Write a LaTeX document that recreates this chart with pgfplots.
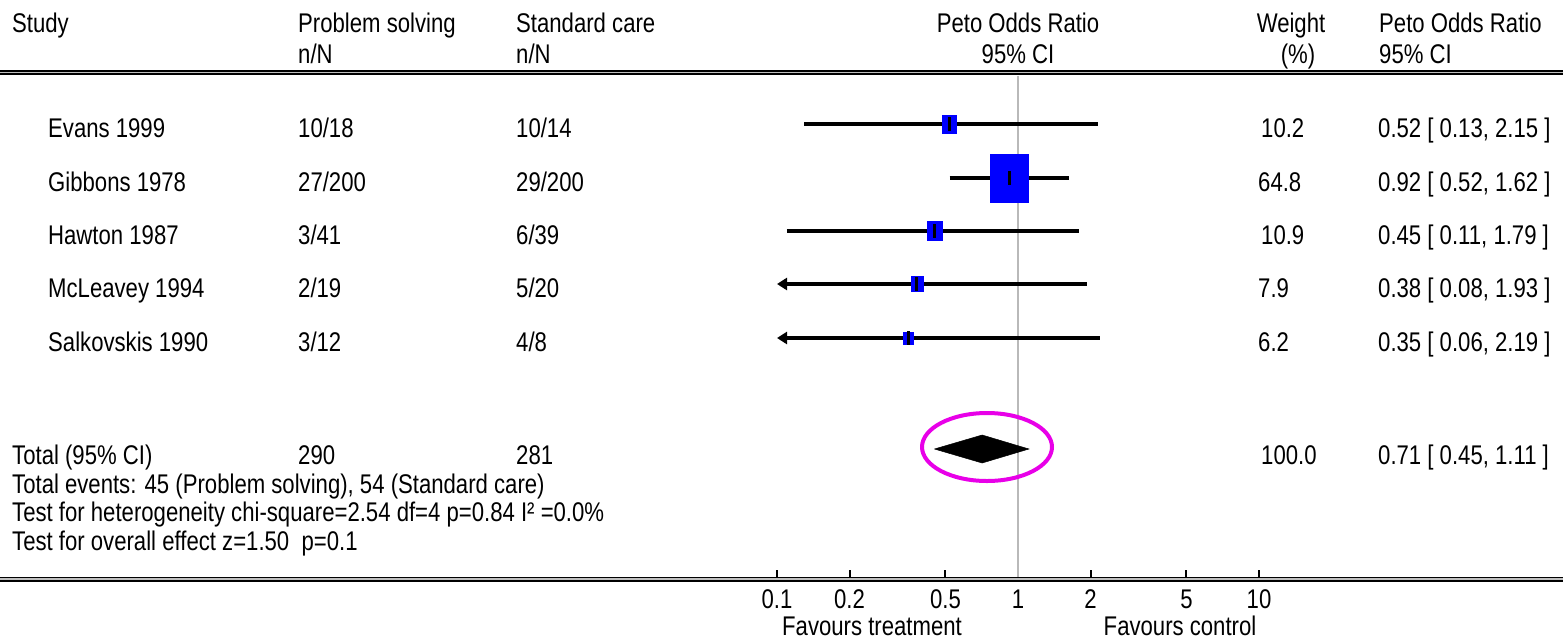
\documentclass[border=0pt]{standalone}
\usepackage{fontspec}
\setmainfont[FakeStretch=0.82]{Liberation Sans}
\usepackage{pgfplots}
\pgfplotsset{compat=1.18}
\usetikzlibrary{arrows.meta}
\newcommand\f{\fontsize{27pt}{30pt}\selectfont}
\definecolor{boxblue}{RGB}{0,0,255}
\definecolor{ring}{RGB}{232,0,232}
\definecolor{refgray}{RGB}{185,185,185}
\begin{document}
\begin{tikzpicture}
\useasboundingbox (0,0) rectangle (1563pt,640pt);
% ---------- data axis (log scale) ----------
\begin{axis}[at={(777pt,60pt)}, anchor=south west, scale only axis,
  width=482pt, height=580pt, xmode=log, xmin=0.1, xmax=10,
  ymin=0, ymax=580, y dir=reverse,
  axis x line*=bottom, hide y axis, axis line style={draw=none},
  xtick={0.1,0.2,0.5,1,2,5,10}, xticklabels={0.1,0.2,0.5,1,2,5,10},
  minor tick length=0pt, tick align=inside, major tick length=10pt,
  every tick/.style={black, line width=2pt},
  xticklabel style={font=\f, anchor=base, yshift=-28pt, inner sep=0pt},
  /pgf/number format/assume math mode=true, clip=false]
% line of no effect
\addplot[refgray, line width=2pt] coordinates {(1,76) (1,580)};
% study boxes (size ~ weight)
\addplot[only marks, mark=square*, boxblue, mark size=8.75pt, mark options={xscale=0.8}] coordinates {(0.52,124)};
\addplot[only marks, mark=square*, boxblue, mark size=23.75pt, mark options={xscale=0.8}] coordinates {(0.92,178)};
\addplot[only marks, mark=square*, boxblue, mark size=9.5pt, mark options={xscale=0.8}] coordinates {(0.45,231)};
\addplot[only marks, mark=square*, boxblue, mark size=7.5pt, mark options={xscale=0.8}] coordinates {(0.38,284)};
\addplot[only marks, mark=square*, boxblue, mark size=6.25pt, mark options={xscale=0.8}] coordinates {(0.35,338)};
% confidence intervals
\addplot[black, line width=3.2pt] coordinates {(0.13,124) (2.15,124)};
\addplot[black, line width=3.2pt] coordinates {(0.52,178) (1.62,178)};
\addplot[black, line width=3.2pt] coordinates {(0.11,231) (1.79,231)};
\addplot[black, line width=3.2pt, {Triangle[length=10pt,width=12pt]}-] coordinates {(0.1,284) (1.93,284)};
\addplot[black, line width=3.2pt, {Triangle[length=10pt,width=12pt]}-] coordinates {(0.1,338) (2.19,338)};
% point estimates
\addplot[only marks, mark=|, mark size=7pt, black, mark options={line width=2.8pt}] coordinates {(0.52,124) (0.92,178) (0.45,231) (0.38,284) (0.35,338)};
% pooled diamond
\addplot[fill=black, draw=black, line width=0.5pt] coordinates {(0.45,449) (0.71,435) (1.11,449) (0.71,463) (0.45,449)};
\end{axis}
% ---------- text / layout axis (pixel units) ----------
\begin{axis}[at={(0pt,0pt)}, anchor=south west, scale only axis,
  width=1563pt, height=640pt, xmin=0, xmax=1563, ymin=0, ymax=640,
  y dir=reverse, hide axis, clip=false]
% rules
\draw[black, line width=5pt] (axis cs:0,72.5) -- (axis cs:1563,72.5);
\draw[gray!50, line width=1.2pt] (axis cs:0,72.5) -- (axis cs:1563,72.5);
\draw[black, line width=5pt] (axis cs:0,579) -- (axis cs:1563,579);
\draw[gray!50, line width=1.2pt] (axis cs:0,579) -- (axis cs:1563,579);
\tikzset{t/.style={font=\f, inner sep=0pt, anchor=base west}, c/.style={font=\f, inner sep=0pt, anchor=base}}
% header
\node[t] at (axis cs:12,32) {Study};
\node[t] at (axis cs:298,32) {Problem solving};
\node[t] at (axis cs:298,63) {n/N};
\node[t] at (axis cs:516,32) {Standard care};
\node[t] at (axis cs:516,63) {n/N};
\node[c] at (axis cs:1018,32) {Peto Odds Ratio};
\node[c] at (axis cs:1018,63) {95\% CI};
\node[c] at (axis cs:1291,32) {Weight};
\node[c] at (axis cs:1298,63) {(\%)};
\node[t] at (axis cs:1379,32) {Peto Odds Ratio};
\node[t] at (axis cs:1379,63) {95\% CI};
% study rows
\node[t] at (axis cs:48,137) {Evans 1999};
\node[t] at (axis cs:298,137) {10/18};
\node[t] at (axis cs:516,137) {10/14};
\node[t] at (axis cs:1261,137) {10.2};
\node[t] at (axis cs:1378,137) {0.52 [ 0.13, 2.15 ]};
\node[t] at (axis cs:48,191) {Gibbons 1978};
\node[t] at (axis cs:298,191) {27/200};
\node[t] at (axis cs:516,191) {29/200};
\node[t] at (axis cs:1258,191) {64.8};
\node[t] at (axis cs:1378,191) {0.92 [ 0.52, 1.62 ]};
\node[t] at (axis cs:48,244) {Hawton 1987};
\node[t] at (axis cs:298,244) {3/41};
\node[t] at (axis cs:516,244) {6/39};
\node[t] at (axis cs:1261,244) {10.9};
\node[t] at (axis cs:1378,244) {0.45 [ 0.11, 1.79 ]};
\node[t] at (axis cs:48,297) {McLeavey 1994};
\node[t] at (axis cs:298,297) {2/19};
\node[t] at (axis cs:516,297) {5/20};
\node[t] at (axis cs:1258,297) {7.9};
\node[t] at (axis cs:1378,297) {0.38 [ 0.08, 1.93 ]};
\node[t] at (axis cs:48,351) {Salkovskis 1990};
\node[t] at (axis cs:298,351) {3/12};
\node[t] at (axis cs:516,351) {4/8};
\node[t] at (axis cs:1258,351) {6.2};
\node[t] at (axis cs:1378,351) {0.35 [ 0.06, 2.19 ]};
% total
\node[t] at (axis cs:12,464) {Total (95\% CI)};
\node[t] at (axis cs:298,464) {290};
\node[t] at (axis cs:516,464) {281};
\node[t] at (axis cs:1261,464) {100.0};
\node[t] at (axis cs:1378,464) {0.71 [ 0.45, 1.11 ]};
\node[t] at (axis cs:12,493) {Total events: 45 (Problem solving), 54 (Standard care)};
\node[t] at (axis cs:12,521) {Test for heterogeneity chi-square=2.54 df=4 p=0.84 I² =0.0\%};
\node[t] at (axis cs:12,550) {Test for overall effect z=1.50~ p=0.1};
% axis captions
\node[c] at (axis cs:872,635) {Favours treatment};
\node[c] at (axis cs:1180,635) {Favours control};
% highlight ring
\draw[ring, line width=4pt] (axis cs:987,447) ellipse [x radius=65pt, y radius=34pt];
\end{axis}
\end{tikzpicture}
\end{document}
